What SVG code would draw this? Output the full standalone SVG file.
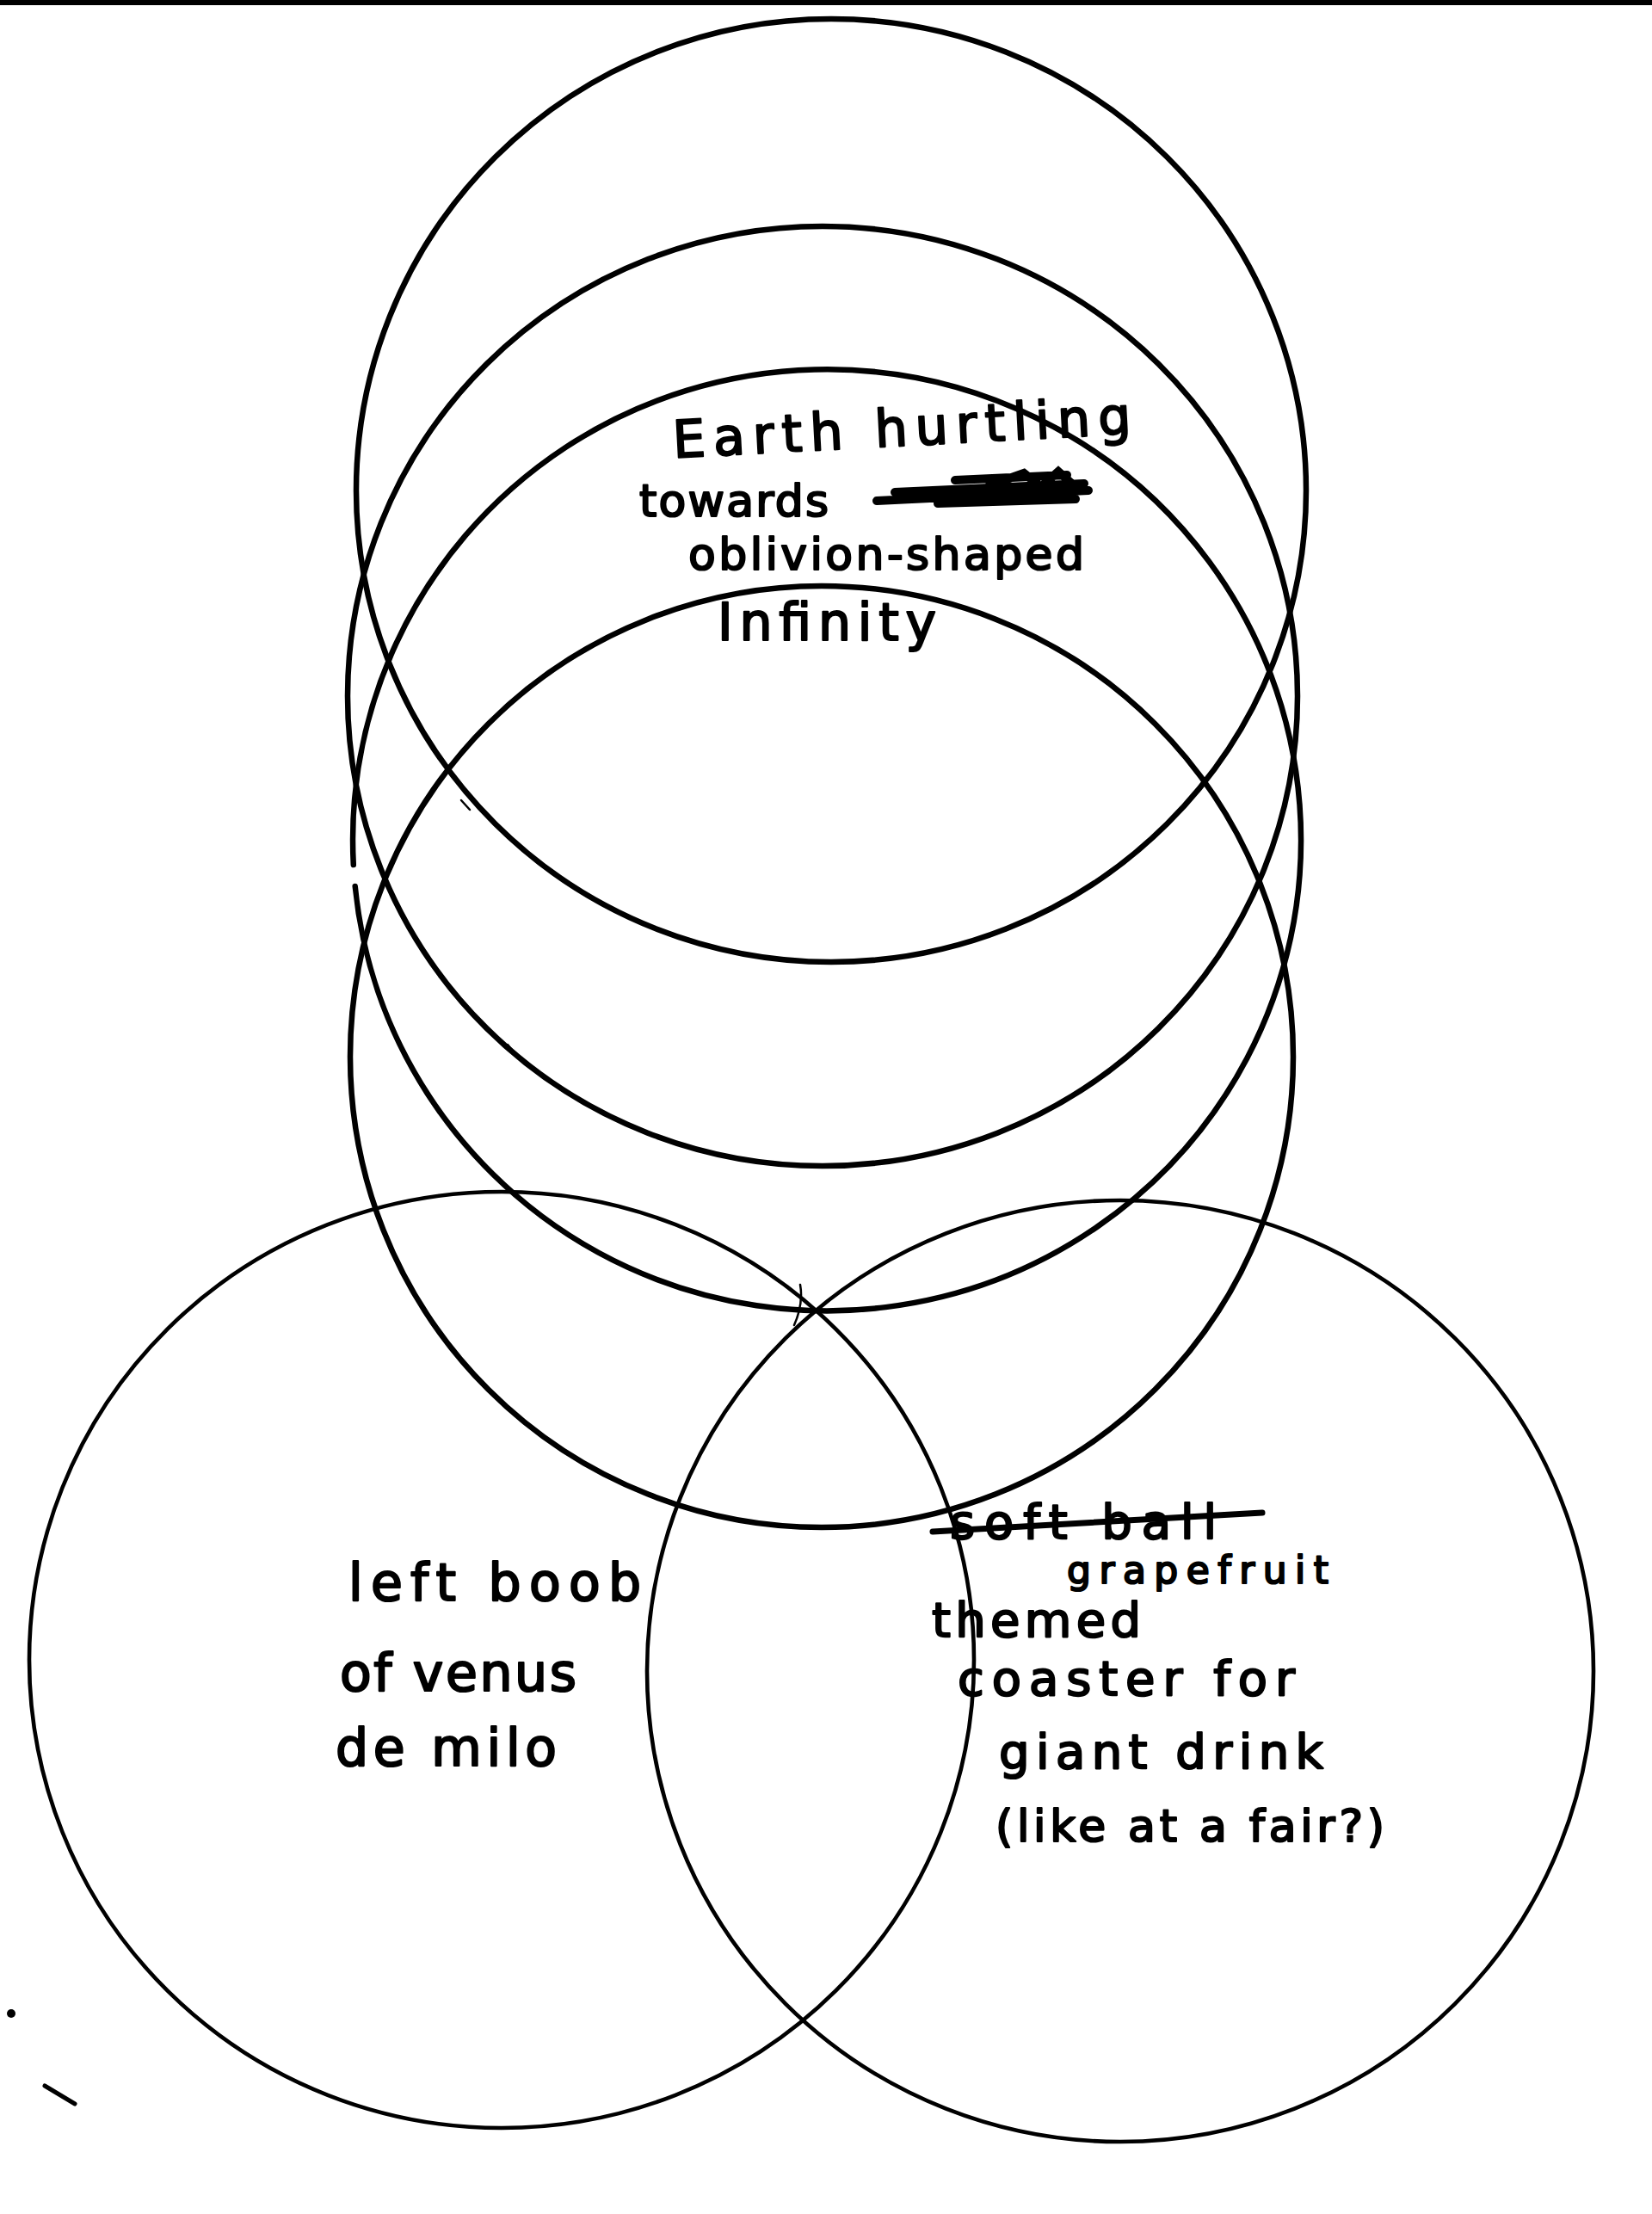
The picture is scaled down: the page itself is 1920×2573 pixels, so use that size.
<svg xmlns="http://www.w3.org/2000/svg" width="1920" height="2573" viewBox="0 0 1920 2573">
<style>
.c{fill:none;stroke:#000;stroke-width:6.5;stroke-linecap:round}
.cb{fill:none;stroke:#000;stroke-width:4.6}
.m{fill:none;stroke:#000;stroke-width:2.5;stroke-linecap:round}
.t{font-family:"DejaVu Sans","Liberation Sans",sans-serif;font-size:60px;fill:#000;stroke:#000;stroke-width:2.2;stroke-linejoin:round}
.s{font-size:52px}
</style>
<rect x="0" y="0" width="1920" height="2573" fill="#fff"/>
<rect x="0" y="0" width="1920" height="6" fill="#000"/>
<g id="circle-top-1"><ellipse class="c" cx="966" cy="570" rx="552" ry="548"/></g>
<g id="circle-top-2"><ellipse class="c" cx="956" cy="809" rx="552" ry="546"/></g>
<g id="circle-top-3"><path class="c" d="M 412.7 1030 A 551 547 0 1 0 410.8 1005"/></g>
<g id="circle-top-4"><ellipse class="c" cx="955" cy="1228" rx="548" ry="547"/></g>
<g id="circle-left"><ellipse class="cb" cx="583" cy="1929" rx="549" ry="544"/></g>
<g id="circle-right"><ellipse class="cb" cx="1302" cy="1942" rx="550" ry="547"/></g>
<g id="marks">
<path class="m" d="M536 930 L546 941"/>
<path class="m" d="M590 1214 L598 1224"/>
<path class="m" d="M930 1493 Q934 1515 923 1540"/>
<circle cx="13" cy="2340" r="5" fill="#000"/>
<path d="M52 2424 L87 2445" stroke="#000" stroke-width="5" stroke-linecap="round"/>
</g>
<g id="label-top">
<text class="t" x="783" y="532" textLength="533" lengthAdjust="spacing" transform="rotate(-3 783 532)">Earth hurtling</text>
<text class="t s" x="743" y="600" textLength="220" lengthAdjust="spacing">towards</text>
<path d="M1019 582 L1080 579 M1040 572 L1260 562 M1060 580 L1265 570 M1090 585 L1250 580 M1110 558 L1240 552 M1150 564 L1190 550 L1210 566 L1230 548 L1250 566 M1120 570 L1245 565" fill="none" stroke="#000" stroke-width="10" stroke-linecap="round"/>
<text class="t s" x="800" y="662" textLength="460" lengthAdjust="spacing">oblivion-shaped</text>
<text class="t" x="834" y="744" textLength="254" lengthAdjust="spacing">Infinity</text>
</g>
<g id="label-left">
<text class="t" x="405" y="1860" textLength="340" lengthAdjust="spacing">left boob</text>
<text class="t" x="395" y="1965" textLength="275" lengthAdjust="spacing">of venus</text>
<text class="t" x="390" y="2052" textLength="257" lengthAdjust="spacing">de milo</text>
</g>
<g id="label-right">
<text class="t" x="1104" y="1788" textLength="310" lengthAdjust="spacing" style="font-size:56px">soft ball</text>
<path d="M1084 1780 L1467 1758" stroke="#000" stroke-width="7" stroke-linecap="round"/>
<text class="t" x="1240" y="1840" textLength="304" lengthAdjust="spacing" style="font-size:44px">grapefruit</text>
<text class="t" x="1083" y="1902" textLength="243" lengthAdjust="spacing" style="font-size:56px">themed</text>
<text class="t" x="1113" y="1970" textLength="392" lengthAdjust="spacing" style="font-size:56px">coaster for</text>
<text class="t" x="1161" y="2055" textLength="377" lengthAdjust="spacing" style="font-size:56px">giant drink</text>
<text class="t s" x="1157" y="2140" textLength="452" lengthAdjust="spacing">(like at a fair?)</text>
</g>
</svg>
